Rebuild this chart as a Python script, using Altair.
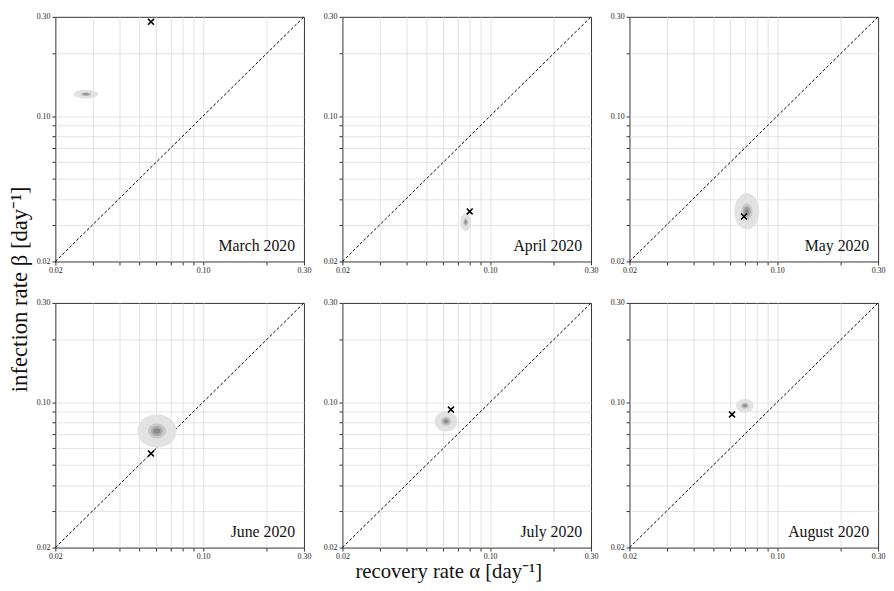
import altair as alt
import pandas as pd
import math

# ---- data ----
months = ["March 2020", "April 2020", "May 2020", "June 2020", "July 2020", "August 2020"]
# observed/estimated point (cross marker)
cross_alpha = [0.0567, 0.0800, 0.0696, 0.0567, 0.0652, 0.0611]
cross_beta = [0.2840, 0.0348, 0.0329, 0.0566, 0.0921, 0.0873]
# centre of the posterior density blob
blob_alpha = [0.0279, 0.0766, 0.0718, 0.0605, 0.0618, 0.0703]
blob_beta = [0.1275, 0.0309, 0.0348, 0.0726, 0.0809, 0.0962]
# half-width of the outer contour, in decades (log10 units)
blob_spread_alpha = [0.058, 0.026, 0.059, 0.093, 0.054, 0.042]
blob_spread_beta = [0.021, 0.042, 0.087, 0.080, 0.049, 0.033]
# contour levels (relative size) and their grey shades
levels = [1.0, 0.45, 0.30, 0.17]
level_colors = ["#e2e2e2", "#c8c8c8", "#a9a9a9", "#8a8a8a"]

tick_values = [0.02, 0.03, 0.04, 0.05, 0.06, 0.07, 0.08, 0.09, 0.1, 0.2, 0.3]
domain = [0.02, 0.3]

W, H = 252, 248
FONT = "Liberation Serif"
decades = math.log10(domain[1] / domain[0])
pxx = W / decades
pxy = H / decades

# ---- tables ----
cross_df = pd.DataFrame({"month": months, "alpha": cross_alpha, "beta": cross_beta})
rows = []
for i, m in enumerate(months):
    for k, (lv, col) in enumerate(zip(levels, level_colors)):
        a = blob_spread_alpha[i] * pxx * lv
        b = blob_spread_beta[i] * pxy * lv
        path = f"M {-a:.2f} 0 A {a:.2f} {b:.2f} 0 1 0 {a:.2f} 0 A {a:.2f} {b:.2f} 0 1 0 {-a:.2f} 0 Z"
        rows.append({"month": m, "alpha": blob_alpha[i], "beta": blob_beta[i],
                     "path": path, "color": col, "level": k})
blob_df = pd.DataFrame(rows)
diag_df = pd.DataFrame({"x0": [domain[0]], "y0": [domain[0]], "x1": [domain[1]], "y1": [domain[1]]})
label_df = pd.DataFrame({"month": months})

label_expr = "(datum.value == 0.02 || datum.value == 0.1 || datum.value == 0.3) ? format(datum.value, '.2f') : ''"
grid_op = {"condition": {"test": "datum.value <= 0.0201 || datum.value >= 0.299", "value": 0}, "value": 1}


def make_axis():
    return alt.Axis(values=tick_values, labelExpr=label_expr, grid=True, gridColor="#dcdcdc",
                    gridWidth=0.8, gridOpacity=grid_op, tickColor="#333333", tickSize=3.5,
                    labelFont=FONT, labelFontSize=8, labelColor="#222222", domain=False,
                    title=None, labelFlush=False, labelOverlap=False, labelPadding=2)


xs = alt.Scale(type="log", domain=domain, nice=False)
ys = alt.Scale(type="log", domain=domain, nice=False)


def panel(m):
    diag = alt.Chart(diag_df).mark_rule(color="black", strokeWidth=1, strokeDash=[3, 2]).encode(
        x=alt.X("x0:Q", scale=xs, axis=make_axis()),
        y=alt.Y("y0:Q", scale=ys, axis=make_axis()),
        x2="x1:Q", y2="y1:Q")
    blob = alt.Chart(blob_df).transform_filter(alt.datum.month == m).mark_point(
        filled=True, opacity=1, strokeWidth=0).encode(
        x=alt.X("alpha:Q", scale=xs),
        y=alt.Y("beta:Q", scale=ys),
        shape=alt.Shape("path:N", scale=None),
        color=alt.Color("color:N", scale=None),
        size=alt.value(4),
        order=alt.Order("level:Q"))
    cross = alt.Chart(cross_df).transform_filter(alt.datum.month == m).mark_point(
        shape="M -1 -1 L 1 1 M -1 1 L 1 -1", filled=False, color="black",
        strokeWidth=1.6, size=36, opacity=1).encode(
        x=alt.X("alpha:Q", scale=xs), y=alt.Y("beta:Q", scale=ys))
    label = alt.Chart(label_df).transform_filter(alt.datum.month == m).mark_text(
        font=FONT, fontSize=16, align="right", baseline="bottom", color="#111111").encode(
        x=alt.value(W - 9), y=alt.value(H - 8), text="month:N")
    return alt.layer(diag, blob, cross, label).properties(width=W, height=H)


row1 = alt.hconcat(*[panel(m) for m in months[:3]], spacing=11)
row2 = alt.hconcat(*[panel(m) for m in months[3:]], spacing=11)
grid = alt.vconcat(row1, row2, spacing=23).properties(
    title=alt.TitleParams("recovery rate α [day⁻¹]", orient="bottom", anchor="middle",
                          font=FONT, fontSize=21, fontWeight="normal", color="#111111",
                          offset=0, dx=-12))
chart = alt.vconcat(grid).properties(
    title=alt.TitleParams("infection rate β [day⁻¹]", orient="left", anchor="middle",
                          font=FONT, fontSize=23, fontWeight="normal", color="#111111",
                          offset=4, dx=8),
    padding={"left": 0, "top": 0, "right": 0, "bottom": 0}
).configure_view(stroke="#333333", strokeWidth=1).configure_concat(spacing=0)

chart.save("out.html", embed_options={"renderer": "svg", "actions": False})
